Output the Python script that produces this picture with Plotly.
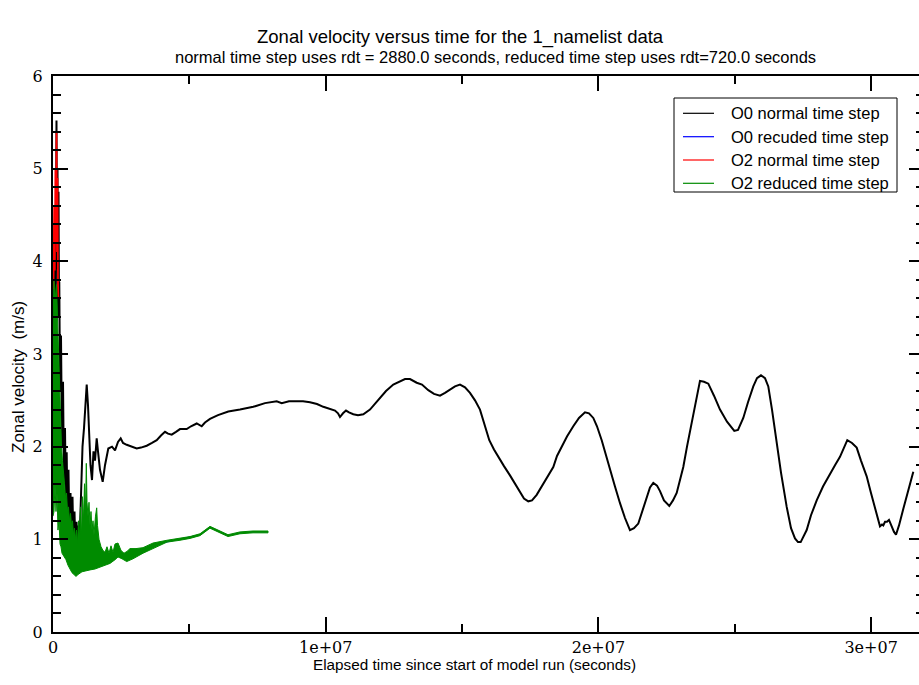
import plotly.graph_objects as go

# ---- data (time in millions of seconds, velocity in m/s) ----
# O0 normal time step
t_o0_normal = [
    0.000, 0.037, 0.055, 0.092, 0.128, 0.147, 0.165, 0.183, 0.202, 0.220, 0.231, 0.257,
    0.293, 0.330, 0.367, 0.403, 0.440, 0.477, 0.502, 0.532, 0.568, 0.605, 0.642, 0.678,
    0.715, 0.752, 0.788, 0.825, 0.862, 0.898, 0.935, 0.972, 1.008, 1.045, 1.082, 1.137,
    1.192, 1.236, 1.283, 1.338, 1.375, 1.430, 1.485, 1.540, 1.602, 1.650, 1.723, 1.822,
    1.907, 2.028, 2.164, 2.274, 2.384, 2.483, 2.567, 2.703, 2.860, 3.069, 3.227, 3.436,
    3.630, 3.803, 3.960, 4.107, 4.217, 4.353, 4.510, 4.657, 4.903, 5.060, 5.270, 5.453,
    5.574, 5.757, 6.051, 6.428, 6.857, 7.345, 7.774, 8.203, 8.387, 8.654, 8.937, 9.168,
    9.424, 9.681, 9.912, 10.121, 10.341, 10.451, 10.524, 10.634, 10.744, 10.854, 11.012,
    11.184, 11.379, 11.624, 11.807, 11.991, 12.211, 12.479, 12.724, 12.908, 13.091, 13.337,
    13.531, 13.762, 13.971, 14.191, 14.375, 14.558, 14.741, 14.925, 15.108, 15.291, 15.475,
    15.658, 15.841, 15.999, 16.171, 16.329, 16.538, 16.758, 16.941, 17.125, 17.271, 17.429,
    17.565, 17.737, 17.895, 18.104, 18.346, 18.482, 18.654, 18.848, 19.079, 19.288, 19.508,
    19.655, 19.813, 19.948, 20.121, 20.278, 20.425, 20.608, 20.792, 20.975, 21.158, 21.305,
    21.463, 21.599, 21.771, 21.892, 22.013, 22.149, 22.259, 22.405, 22.600, 22.735, 22.871,
    23.113, 23.249, 23.421, 23.579, 23.725, 23.872, 24.030, 24.239, 24.459, 24.716, 24.983,
    25.119, 25.313, 25.486, 25.680, 25.816, 25.962, 26.109, 26.230, 26.366, 26.538, 26.696,
    26.905, 27.063, 27.209, 27.319, 27.418, 27.503, 27.638, 27.796, 28.005, 28.236, 28.492,
    28.676, 28.859, 29.006, 29.127, 29.299, 29.471, 29.629, 29.838, 29.996, 30.143, 30.253,
    30.326, 30.399, 30.447, 30.510, 30.583, 30.656, 30.755, 30.840, 30.913, 31.023, 31.182,
    31.354, 31.548,
]
u_o0_normal = [
    1.40, 3.00, 4.40, 3.20, 5.52, 4.00, 5.00, 3.40, 4.75, 3.45, 3.78, 2.60,
    3.20, 2.00, 2.70, 1.60, 2.20, 1.30, 1.94, 1.20, 1.75, 1.00, 1.50, 0.95,
    1.46, 0.90, 1.30, 0.88, 1.19, 0.91, 1.15, 0.95, 1.30, 1.50, 2.00, 2.20,
    2.50, 2.67, 2.45, 2.00, 1.80, 1.64, 1.95, 1.85, 2.09, 1.95, 1.75, 1.62,
    1.80, 1.98, 2.00, 1.96, 2.05, 2.09, 2.04, 2.02, 2.00, 1.98, 1.99, 2.01,
    2.04, 2.07, 2.12, 2.16, 2.14, 2.13, 2.16, 2.19, 2.19, 2.22, 2.25, 2.22,
    2.26, 2.30, 2.34, 2.38, 2.40, 2.43, 2.47, 2.49, 2.47, 2.49, 2.49, 2.49,
    2.48, 2.46, 2.43, 2.41, 2.39, 2.36, 2.32, 2.36, 2.39, 2.37, 2.35,
    2.34, 2.35, 2.40, 2.46, 2.52, 2.60, 2.67, 2.70, 2.73, 2.73, 2.69,
    2.67, 2.61, 2.57, 2.55, 2.58, 2.62, 2.65, 2.67, 2.64, 2.58, 2.50,
    2.40, 2.22, 2.07, 1.97, 1.89, 1.79, 1.69, 1.60, 1.50, 1.44, 1.41,
    1.42, 1.48, 1.56, 1.66, 1.78, 1.90, 2.00, 2.11, 2.22, 2.31, 2.37,
    2.36, 2.31, 2.22, 2.07, 1.90, 1.75, 1.57, 1.39, 1.23, 1.10, 1.12,
    1.17, 1.30, 1.46, 1.56, 1.61, 1.58, 1.52, 1.42, 1.36, 1.42, 1.50,
    1.78, 2.00, 2.25, 2.50, 2.71, 2.70, 2.68, 2.55, 2.40, 2.27, 2.17,
    2.18, 2.31, 2.48, 2.65, 2.74, 2.77, 2.74, 2.65, 2.40, 2.04, 1.72,
    1.35, 1.12, 1.01, 0.97, 0.97, 1.02, 1.10, 1.26, 1.42, 1.57, 1.71,
    1.80, 1.89, 1.99, 2.07, 2.04, 1.99, 1.85, 1.68, 1.50, 1.35, 1.22,
    1.14, 1.16, 1.15, 1.19, 1.19, 1.21, 1.14, 1.08, 1.05, 1.15, 1.33,
    1.52, 1.73,
]

# O0 reduced time step
t_o0_reduced = [
    0.000, 0.073, 0.147, 0.220, 0.293, 0.367, 0.477, 0.623, 0.807, 0.990, 1.210, 1.430,
    1.723, 2.090, 2.384, 2.714, 3.044, 3.411, 3.924, 4.657, 5.024, 5.390, 5.757, 6.051,
    6.417, 6.857, 7.334, 7.884,
]
u_o0_reduced = [
    2.00, 2.90, 3.00, 2.00, 1.50, 1.20, 1.00, 0.85, 0.75, 0.80, 0.95, 0.85,
    0.80, 0.82, 0.88, 0.81, 0.85, 0.90, 0.955, 1.00, 1.02, 1.05, 1.13, 1.09,
    1.04, 1.07, 1.08, 1.08,
]

# O2 normal time step
t_o2_normal = [0.018, 0.044, 0.066, 0.088, 0.106, 0.128, 0.147, 0.165, 0.183, 0.198]
u_o2_normal = [3.70, 4.60, 3.90, 5.00, 4.20, 5.40, 4.10, 4.90, 3.75, 3.60]

# O2 reduced time step: upper and lower envelope of the oscillating signal
t_o2_reduced_hi = [
    0.000, 0.037, 0.092, 0.128, 0.165, 0.202, 0.238, 0.275, 0.312, 0.348, 0.385, 0.422,
    0.458, 0.495, 0.532, 0.568, 0.605, 0.642, 0.678, 0.715, 0.752, 0.788, 0.825, 0.862,
    0.898, 0.935, 0.972, 1.008, 1.045, 1.082, 1.118, 1.155, 1.192, 1.221, 1.247, 1.283,
    1.320, 1.357, 1.393, 1.430, 1.467, 1.503, 1.558, 1.602, 1.632, 1.687, 1.760, 1.834,
    1.907, 1.980, 2.054, 2.127, 2.200, 2.274, 2.384, 2.494, 2.604, 2.714, 2.824, 3.044,
    3.300, 3.667, 4.180, 4.657, 5.024, 5.390, 5.757, 6.051, 6.417, 6.857, 7.334, 7.884,
]
u_o2_reduced_hi = [
    3.30, 3.80, 3.60, 3.75, 3.40, 3.00, 2.80, 2.30, 2.00, 1.85, 1.75, 1.60,
    1.45, 1.50, 1.30, 1.35, 1.20, 1.28, 1.15, 1.20, 1.05, 1.12, 1.00, 1.10,
    0.95, 1.20, 1.00, 1.35, 1.05, 1.46, 1.20, 1.60, 1.30, 1.82, 1.40, 1.25,
    1.40, 1.15, 1.30, 1.10, 1.20, 1.05, 1.25, 1.34, 1.15, 1.00, 0.92, 0.88,
    0.86, 0.92, 0.85, 0.93, 0.86, 0.95, 0.96, 0.88, 0.85, 0.87, 0.90, 0.90,
    0.91, 0.96, 0.99, 1.01, 1.03, 1.06, 1.14, 1.10, 1.05, 1.08, 1.09, 1.09,
]
t_o2_reduced_lo = [
    0.000, 0.037, 0.073, 0.110, 0.147, 0.183, 0.220, 0.257, 0.293, 0.330, 0.403, 0.477,
    0.550, 0.623, 0.697, 0.770, 0.843, 0.917, 1.063, 1.210, 1.357, 1.540, 1.723, 1.907,
    2.090, 2.274, 2.384, 2.530, 2.703, 2.934, 3.300, 3.667, 4.180, 4.657, 5.024, 5.390,
    5.757, 6.051, 6.417, 6.857, 7.334, 7.884,
]
u_o2_reduced_lo = [
    1.25, 1.30, 1.60, 1.30, 1.50, 1.10, 1.20, 0.95, 0.92, 0.85, 0.82, 0.78,
    0.72, 0.68, 0.64, 0.62, 0.60, 0.62, 0.65, 0.66, 0.67, 0.68, 0.70, 0.72,
    0.74, 0.78, 0.81, 0.79, 0.76, 0.79, 0.85, 0.90, 0.97, 0.99, 1.01, 1.04,
    1.12, 1.08, 1.03, 1.06, 1.07, 1.07,
]

series_names = ["O0 normal time step", "O0 recuded time step",
                "O2 normal time step", "O2 reduced time step"]
series_colors = ["#000000", "#0000ff", "#ff0000", "#008b00"]

x_tick_values = [0, 1e7, 2e7, 3e7]
x_tick_labels = ["0", "1e+07", "2e+07", "3e+07"]
y_tick_values = [0, 1, 2, 3, 4, 5, 6]
y_tick_labels = ["0", "1", "2", "3", "4", "5", "6"]

MEGA = 1e6


def secs(values):
    return [v * MEGA for v in values]


# ---- layout geometry (pixels) ----
W, H = 919, 685
L, R, T, B = 53, 0, 76, 53
PW, PH = W - L - R, H - T - B


def paper_x(px):
    return (px - L) / PW


def paper_y(py):
    return (H - B - py) / PH


SANS = "Liberation Sans, Arial, sans-serif"
SERIF = "DejaVu Serif, Liberation Serif, serif"

fig = go.Figure()

fig.add_trace(go.Scatter(
    x=secs(t_o0_normal), y=u_o0_normal, mode="lines", name=series_names[0],
    line=dict(color=series_colors[0], width=2),
))
fig.add_trace(go.Scatter(
    x=secs(t_o0_reduced), y=u_o0_reduced, mode="lines", name=series_names[1],
    line=dict(color=series_colors[1], width=1),
))
fig.add_trace(go.Scatter(
    x=secs(t_o2_normal), y=u_o2_normal, mode="lines", name=series_names[2],
    line=dict(color=series_colors[2], width=1.8),
))
# O2 reduced: band between envelopes (dense oscillation)
band_x = secs(t_o2_reduced_hi) + secs(t_o2_reduced_lo)[::-1]
band_y = u_o2_reduced_hi + u_o2_reduced_lo[::-1]
fig.add_trace(go.Scatter(
    x=band_x, y=band_y, mode="lines", fill="toself", fillcolor=series_colors[3],
    line=dict(color=series_colors[3], width=1), name=series_names[3], hoverinfo="skip",
))
# right-hand tick marks (no spine)
fig.add_trace(go.Scatter(x=[None], y=[None], yaxis="y2", showlegend=False))

# ---- legend box drawn with shapes ----
LEG_L, LEG_T, LEG_R, LEG_B = 674, 98, 897, 192
LEG_ROWS = [113.3, 136.7, 160.0, 183.3]
shapes = [dict(type="rect", xref="paper", yref="paper",
               x0=paper_x(LEG_L), x1=paper_x(LEG_R), y0=paper_y(LEG_B), y1=paper_y(LEG_T),
               line=dict(color="black", width=1), fillcolor="white", layer="above")]
annotations = []
for name, color, row in zip(series_names, series_colors, LEG_ROWS):
    shapes.append(dict(type="line", xref="paper", yref="paper",
                       x0=paper_x(683), x1=paper_x(714), y0=paper_y(row), y1=paper_y(row),
                       line=dict(color=color, width=1.2), layer="above"))
    annotations.append(dict(text=name, x=paper_x(729), y=paper_y(row), xref="paper", yref="paper",
                            xanchor="left", yanchor="middle", showarrow=False,
                            font=dict(family=SANS, size=16.5, color="black")))

annotations += [
    dict(text="Zonal velocity versus time for the 1_namelist data",
         x=paper_x(460), y=paper_y(37), xref="paper", yref="paper",
         xanchor="center", yanchor="middle",
         showarrow=False, font=dict(family=SANS, size=18.5, color="black")),
    dict(text="normal time step uses rdt = 2880.0 seconds, reduced time step uses rdt=720.0 seconds",
         x=paper_x(495), y=paper_y(57), xref="paper", yref="paper",
         xanchor="center", yanchor="middle",
         showarrow=False, font=dict(family=SANS, size=16.5, color="black")),
    dict(text="Elapsed time since start of model run (seconds)",
         x=paper_x(474), y=paper_y(664), xref="paper", yref="paper",
         xanchor="center", yanchor="middle",
         showarrow=False, font=dict(family=SANS, size=15.3, color="black")),
    dict(text="Zonal velocity  (m/s)", textangle=-90,
         x=paper_x(18), y=paper_y(377), xref="paper", yref="paper",
         xanchor="center", yanchor="middle",
         showarrow=False, font=dict(family=SANS, size=17, color="black")),
]

tick_common = dict(
    ticks="inside", tickcolor="black", tickwidth=1.5,
    showgrid=False, zeroline=False,
    showline=True, linecolor="black", linewidth=2,
    tickfont=dict(family=SERIF, size=16, color="black"),
)

fig.update_layout(
    width=W, height=H,
    margin=dict(l=L, r=R, t=T, b=B, pad=0),
    paper_bgcolor="white", plot_bgcolor="white",
    showlegend=False,
    xaxis=dict(
        range=[0, (W - L) / 272.7 * 1e7],
        tickvals=x_tick_values, ticktext=x_tick_labels,
        ticklen=15, mirror="ticks",
        minor=dict(ticks="inside", dtick=5e6, ticklen=8, tickwidth=1.5, tickcolor="black"),
        ticklabelstandoff=0,
        **tick_common,
    ),
    yaxis=dict(
        range=[0, 6],
        tickvals=y_tick_values, ticktext=y_tick_labels,
        ticklen=15,
        minor=dict(ticks="inside", dtick=0.2, ticklen=8, tickwidth=1.5, tickcolor="black"),
        ticklabelstandoff=5,
        **tick_common,
    ),
    yaxis2=dict(
        range=[0, 6], overlaying="y", side="right", anchor="x",
        tickvals=y_tick_values, showticklabels=False,
        ticks="inside", ticklen=10, tickwidth=1.5, tickcolor="black",
        minor=dict(ticks="inside", dtick=0.2, ticklen=3, tickwidth=1.5, tickcolor="black"),
        showline=False, showgrid=False, zeroline=False,
    ),
    shapes=shapes,
    annotations=annotations,
)

fig.write_html("out.html")
